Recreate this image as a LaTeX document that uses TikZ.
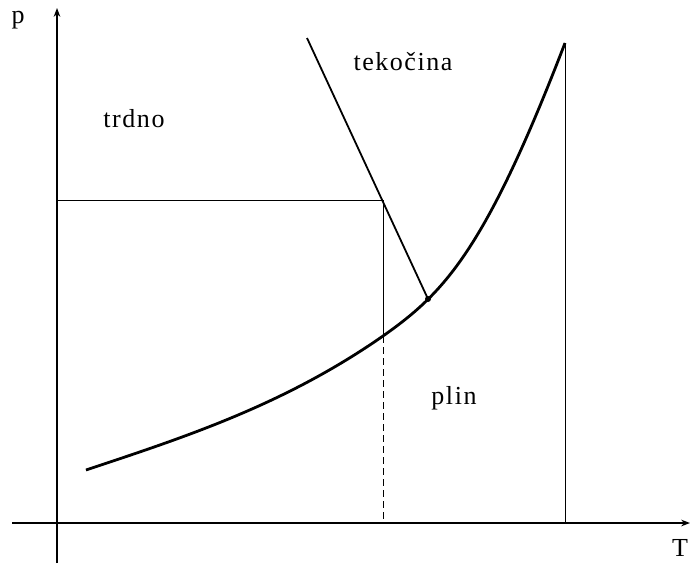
\documentclass[tikz,border=0pt]{standalone}
\usepackage{fontspec}
\setmainfont{Liberation Serif}
\usetikzlibrary{arrows.meta}
\newfontfamily\lblfont[LetterSpace=6]{Liberation Serif}
\tikzset{>=Stealth,every node/.style={font=\lblfont\fontsize{26}{30}\selectfont},axis/.style={line width=1.3pt,->},thin line/.style={line width=1pt},phase/.style={line width=2.8pt,line join=round},melt/.style={line width=1.8pt}}

\begin{document}
\begin{tikzpicture}[x=1pt,y=-1pt]
\useasboundingbox (0,0) rectangle (695,563);
% axes
\coordinate (O) at (57,523);
\coordinate (Ptop) at (57,8);
\coordinate (Tend) at (690,523);
\draw[axis] (57,563)--(Ptop);
\draw[axis] (12,523)--(Tend);
\node at (18,20){p};
\node at (680,548){T};
% points on the diagram
\coordinate (S) at (86,470);
\coordinate (A) at (383,200);
\coordinate (B) at (383,336);
\coordinate (C) at (383,523);
\coordinate (tp) at (428,299);
\coordinate (kp) at (565,43);
\coordinate (kb) at (565,523);
\draw[thin line] (57,200)--(A)--(B);
\draw[thin line,dashed,dash pattern=on 7pt off 4pt] (B)--(C);
\draw[thin line] (kp)--(kb);
\draw[melt] (307,38)--(tp);
\draw[phase] (S) .. controls (185,437) and (284,405) .. (B) .. controls (444,293) and (485,251) .. (kp);
\fill (tp) circle(3pt);
% labels
\node at (403,62){tekočina};
\node at (134,119){trdno};
\node at (454,398){plin};
\end{tikzpicture}
\end{document}
